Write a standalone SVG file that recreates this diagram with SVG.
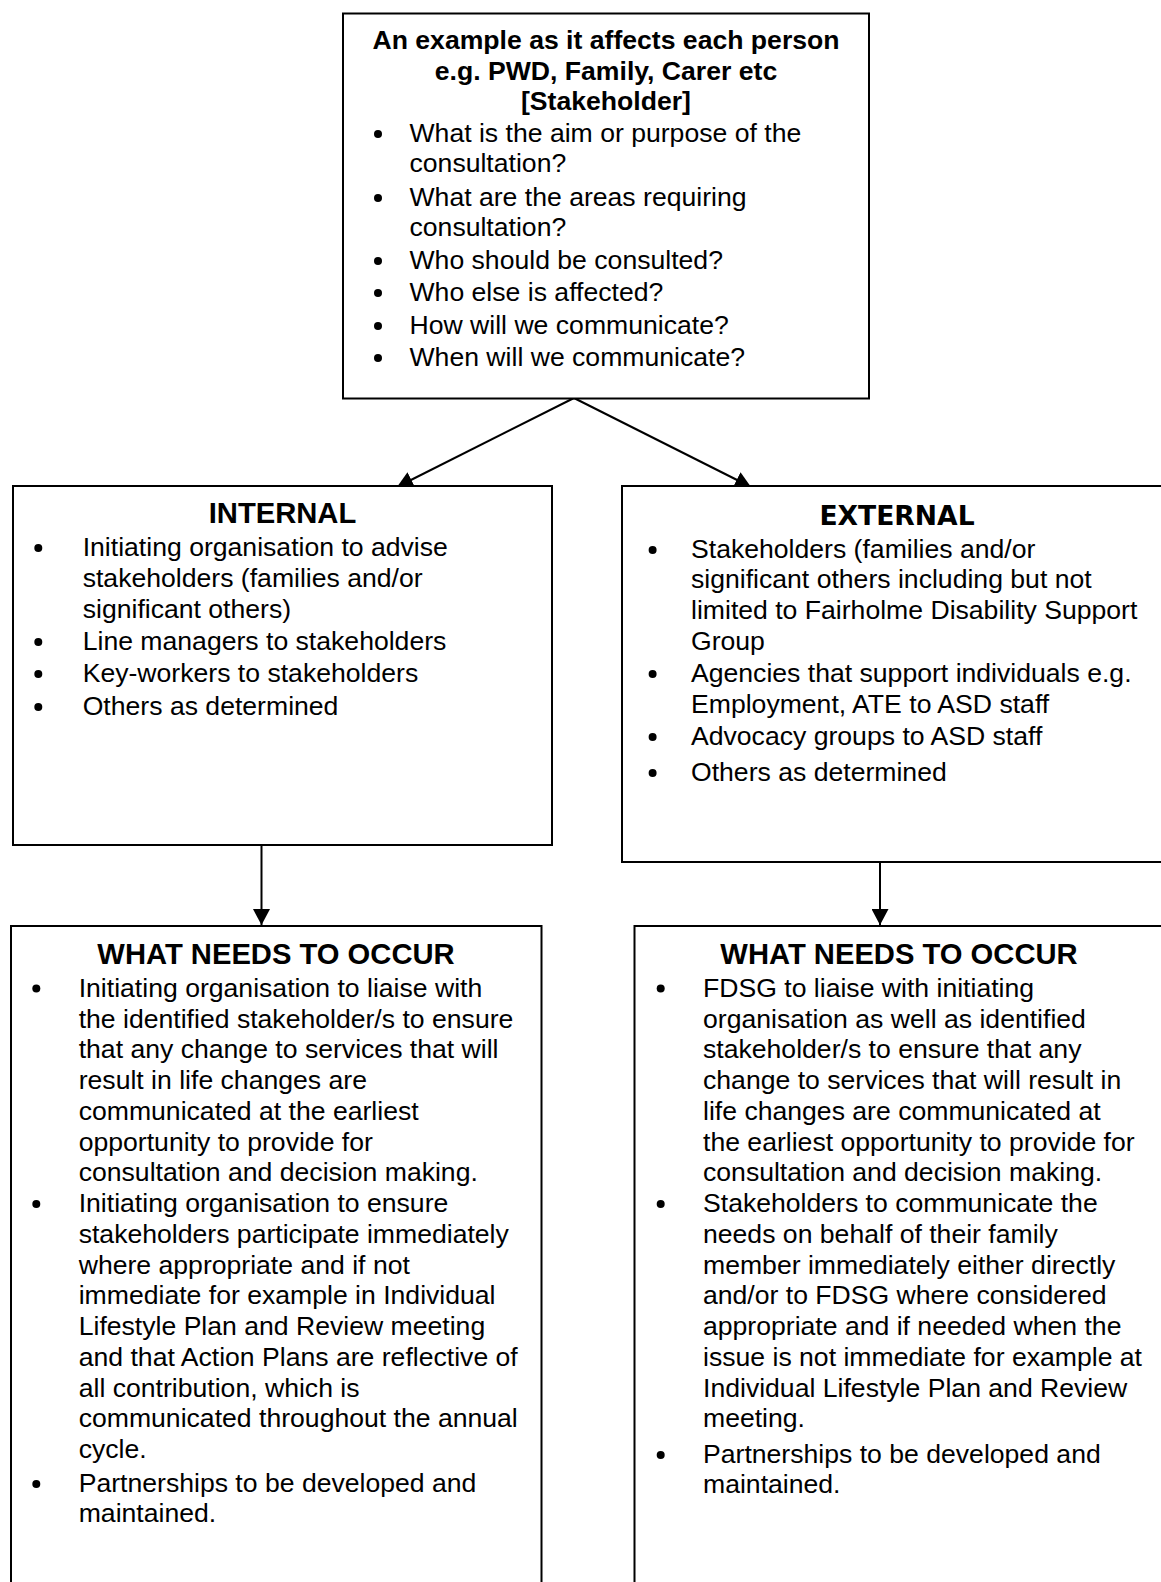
<svg xmlns="http://www.w3.org/2000/svg" width="1161" height="1582" viewBox="0 0 1161 1582">
<defs>
<style>
.box{fill:#fff;stroke:#000;stroke-width:2}
.t{font-family:"Liberation Sans",Arial,sans-serif;font-size:26.6px;fill:#000}
.hb{font-family:"Liberation Sans",Arial,sans-serif;font-size:26.6px;font-weight:bold;fill:#000;text-anchor:middle}
.h{font-family:"Liberation Sans",Arial,sans-serif;font-size:29.2px;font-weight:bold;fill:#000;text-anchor:middle}
.hv{font-family:"DejaVu Sans",Verdana,sans-serif;font-size:26.6px;font-weight:bold;fill:#000;text-anchor:middle}
.b{fill:#000}
.c{fill:none;stroke:#000;stroke-width:2}
</style>
<marker id="ah" viewBox="0 0 16 17" refX="16" refY="8.5" markerWidth="16" markerHeight="17" markerUnits="userSpaceOnUse" orient="auto">
<path d="M0,0 L16,8.5 L0,17 z" fill="#000"/>
</marker>
</defs>

<g id="connectors">
<line class="c" x1="574" y1="398" x2="397" y2="487" marker-end="url(#ah)"/>
<line class="c" x1="574" y1="398" x2="751" y2="487" marker-end="url(#ah)"/>
<line class="c" x1="261.5" y1="845" x2="261.5" y2="925" marker-end="url(#ah)"/>
<line class="c" x1="880" y1="862" x2="880" y2="925" marker-end="url(#ah)"/>
</g>

<g id="top">
<rect class="box" x="343" y="13.5" width="526" height="385"/>
<text class="hb" x="606" y="49">An example as it affects each person</text>
<text class="hb" x="606" y="80">e.g. PWD, Family, Carer etc</text>
<text class="hb" x="606" y="110">[Stakeholder]</text>
<circle class="b" cx="378" cy="134" r="4"/>
<circle class="b" cx="378" cy="198" r="4"/>
<circle class="b" cx="378" cy="261" r="4"/>
<circle class="b" cx="378" cy="293" r="4"/>
<circle class="b" cx="378" cy="326" r="4"/>
<circle class="b" cx="378" cy="358" r="4"/>
<text class="t" x="409.5" y="142">What is the aim or purpose of the</text>
<text class="t" x="409.5" y="172">consultation?</text>
<text class="t" x="409.5" y="206">What are the areas requiring</text>
<text class="t" x="409.5" y="236">consultation?</text>
<text class="t" x="409.5" y="269">Who should be consulted?</text>
<text class="t" x="409.5" y="301">Who else is affected?</text>
<text class="t" x="409.5" y="334">How will we communicate?</text>
<text class="t" x="409.5" y="366">When will we communicate?</text>
</g>

<g id="internal">
<rect class="box" x="13" y="486" width="539" height="359"/>
<text class="h" x="282.5" y="523">INTERNAL</text>
<circle class="b" cx="38.3" cy="548" r="4"/>
<circle class="b" cx="38.3" cy="642" r="4"/>
<circle class="b" cx="38.3" cy="674" r="4"/>
<circle class="b" cx="38.3" cy="707" r="4"/>
<text class="t" x="82.7" y="556">Initiating organisation to advise</text>
<text class="t" x="82.7" y="587">stakeholders (families and/or</text>
<text class="t" x="82.7" y="618">significant others)</text>
<text class="t" x="82.7" y="650">Line managers to stakeholders</text>
<text class="t" x="82.7" y="682">Key-workers to stakeholders</text>
<text class="t" x="82.7" y="715">Others as determined</text>
</g>

<g id="external">
<rect class="box" x="622" y="486" width="550" height="376"/>
<text class="hv" x="897" y="525">EXTERNAL</text>
<circle class="b" cx="652.6" cy="550" r="4"/>
<circle class="b" cx="652.6" cy="674" r="4"/>
<circle class="b" cx="652.6" cy="737" r="4"/>
<circle class="b" cx="652.6" cy="773" r="4"/>
<text class="t" x="691" y="558">Stakeholders (families and/or</text>
<text class="t" x="691" y="588">significant others including but not</text>
<text class="t" x="691" y="619">limited to Fairholme Disability Support</text>
<text class="t" x="691" y="650">Group</text>
<text class="t" x="691" y="682">Agencies that support individuals e.g.</text>
<text class="t" x="691" y="713">Employment, ATE to ASD staff</text>
<text class="t" x="691" y="745">Advocacy groups to ASD staff</text>
<text class="t" x="691" y="781">Others as determined</text>
</g>

<g id="occur-internal">
<rect class="box" x="11" y="926" width="530.5" height="700"/>
<text class="h" x="276" y="964">WHAT NEEDS TO OCCUR</text>
<circle class="b" cx="36.3" cy="988.5" r="4"/>
<circle class="b" cx="36.3" cy="1204" r="4"/>
<circle class="b" cx="36.3" cy="1484" r="4"/>
<text class="t" x="78.7" y="996.5">Initiating organisation to liaise with</text>
<text class="t" x="78.7" y="1028">the identified stakeholder/s to ensure</text>
<text class="t" x="78.7" y="1058">that any change to services that will</text>
<text class="t" x="78.7" y="1089">result in life changes are</text>
<text class="t" x="78.7" y="1120">communicated at the earliest</text>
<text class="t" x="78.7" y="1151">opportunity to provide for</text>
<text class="t" x="78.7" y="1181">consultation and decision making.</text>
<text class="t" x="78.7" y="1212">Initiating organisation to ensure</text>
<text class="t" x="78.7" y="1243">stakeholders participate immediately</text>
<text class="t" x="78.7" y="1274">where appropriate and if not</text>
<text class="t" x="78.7" y="1304">immediate for example in Individual</text>
<text class="t" x="78.7" y="1335">Lifestyle Plan and Review meeting</text>
<text class="t" x="78.7" y="1366">and that Action Plans are reflective of</text>
<text class="t" x="78.7" y="1397">all contribution, which is</text>
<text class="t" x="78.7" y="1427">communicated throughout the annual</text>
<text class="t" x="78.7" y="1458">cycle.</text>
<text class="t" x="78.7" y="1492">Partnerships to be developed and</text>
<text class="t" x="78.7" y="1522">maintained.</text>
</g>

<g id="occur-external">
<rect class="box" x="634.5" y="926" width="540" height="700"/>
<text class="h" x="899" y="964">WHAT NEEDS TO OCCUR</text>
<circle class="b" cx="660.7" cy="988.5" r="4"/>
<circle class="b" cx="660.7" cy="1204" r="4"/>
<circle class="b" cx="660.7" cy="1455" r="4"/>
<text class="t" x="703" y="996.5">FDSG to liaise with initiating</text>
<text class="t" x="703" y="1028">organisation as well as identified</text>
<text class="t" x="703" y="1058">stakeholder/s to ensure that any</text>
<text class="t" x="703" y="1089">change to services that will result in</text>
<text class="t" x="703" y="1120">life changes are communicated at</text>
<text class="t" x="703" y="1151">the earliest opportunity to provide for</text>
<text class="t" x="703" y="1181">consultation and decision making.</text>
<text class="t" x="703" y="1212">Stakeholders to communicate the</text>
<text class="t" x="703" y="1243">needs on behalf of their family</text>
<text class="t" x="703" y="1274">member immediately either directly</text>
<text class="t" x="703" y="1304">and/or to FDSG where considered</text>
<text class="t" x="703" y="1335">appropriate and if needed when the</text>
<text class="t" x="703" y="1366">issue is not immediate for example at</text>
<text class="t" x="703" y="1397">Individual Lifestyle Plan and Review</text>
<text class="t" x="703" y="1427">meeting.</text>
<text class="t" x="703" y="1463">Partnerships to be developed and</text>
<text class="t" x="703" y="1493">maintained.</text>
</g>
</svg>
